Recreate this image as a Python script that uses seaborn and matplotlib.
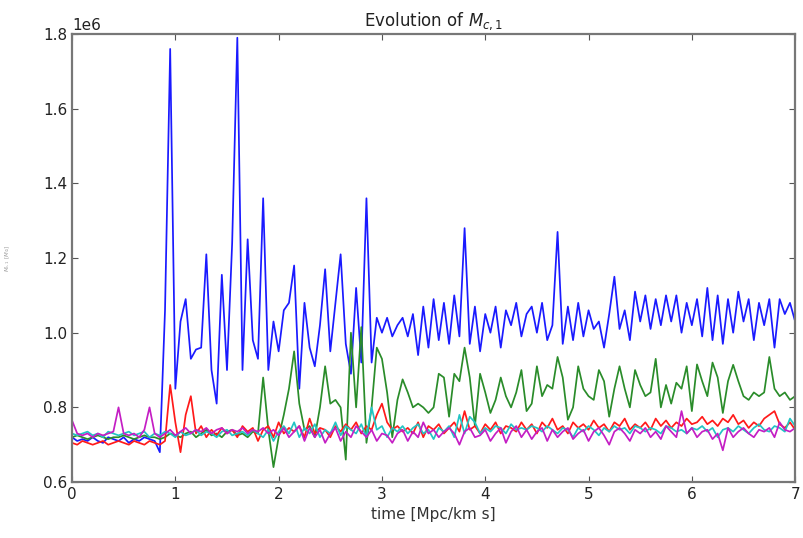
import numpy as np
import pandas as pd
import matplotlib
matplotlib.use("Agg")
import matplotlib.pyplot as plt
import seaborn as sns

# ---------------- data (values in units of 1e6) ----------------
n_steps = 141
dt = 0.05

blue = [0.72, 0.71, 0.715, 0.71, 0.72, 0.71, 0.705, 0.72, 0.715, 0.71, 0.72, 0.705, 0.715, 0.71, 0.72, 0.715, 0.71,
        0.68, 1.06, 1.76, 0.85, 1.03, 1.09, 0.93, 0.955, 0.96, 1.21, 0.90, 0.81, 1.155, 0.90, 1.24, 1.79, 0.90,
        1.25, 0.98, 0.93, 1.36, 0.90, 1.03, 0.95, 1.06, 1.08, 1.18, 0.85, 1.08, 0.96, 0.91, 1.02, 1.17, 0.95,
        1.08, 1.21, 0.97, 0.89, 1.12, 0.92, 1.36, 0.92, 1.04, 1.00, 1.04, 0.99, 1.02, 1.04, 0.99, 1.05, 0.94,
        1.07, 0.96, 1.09, 0.98, 1.08, 0.97, 1.10, 0.99, 1.28, 0.97, 1.07, 0.95, 1.05, 1.00, 1.07, 0.96, 1.06,
        1.02, 1.08, 0.99, 1.05, 1.07, 1.00, 1.08, 0.98, 1.02, 1.27, 0.97, 1.07, 0.98, 1.08, 0.99, 1.06, 1.01,
        1.03, 0.96, 1.05, 1.15, 1.01, 1.06, 0.98, 1.11, 1.03, 1.10, 1.01, 1.09, 1.02, 1.10, 1.03, 1.10, 1.00,
        1.08, 1.02, 1.09, 0.99, 1.12, 0.98, 1.10, 0.97, 1.09, 1.00, 1.11, 1.03, 1.09, 0.98, 1.08, 1.02, 1.09,
        0.96, 1.09, 1.05, 1.08, 1.03]

green = [0.72, 0.725, 0.72, 0.715, 0.72, 0.725, 0.72, 0.715, 0.72, 0.72, 0.725, 0.72, 0.715, 0.72, 0.725, 0.72,
         0.72, 0.715, 0.72, 0.73, 0.725, 0.72, 0.73, 0.735, 0.72, 0.73, 0.74, 0.725, 0.73, 0.72, 0.735, 0.74,
         0.725, 0.73, 0.72, 0.735, 0.73,
         0.88, 0.74, 0.64, 0.72, 0.78, 0.85, 0.95, 0.81, 0.74, 0.75, 0.72, 0.80, 0.91, 0.81, 0.82, 0.80, 0.66,
         1.00, 0.80, 1.015, 0.705, 0.80, 0.96, 0.93, 0.84, 0.72, 0.82, 0.875, 0.84, 0.80, 0.81, 0.80, 0.785,
         0.80, 0.89, 0.88, 0.775, 0.89, 0.87, 0.96, 0.88, 0.75, 0.89, 0.84, 0.785, 0.82, 0.88, 0.83, 0.80,
         0.84, 0.90, 0.79, 0.81, 0.91, 0.83, 0.86, 0.85, 0.935, 0.88, 0.767, 0.80, 0.91, 0.85, 0.83, 0.82,
         0.90, 0.87, 0.775, 0.85, 0.91, 0.85, 0.80, 0.90, 0.86, 0.83, 0.84, 0.93, 0.80, 0.86, 0.81, 0.866,
         0.85, 0.91, 0.79, 0.915, 0.87, 0.83, 0.92, 0.88, 0.785, 0.87, 0.914, 0.87, 0.83, 0.82, 0.84, 0.83,
         0.84, 0.935, 0.85, 0.83, 0.84, 0.82, 0.83]

red = [0.705, 0.70, 0.71, 0.705, 0.70, 0.705, 0.71, 0.70, 0.705, 0.71, 0.705, 0.70, 0.71, 0.705, 0.70, 0.71,
       0.705, 0.70, 0.71, 0.86, 0.76, 0.68, 0.78, 0.83, 0.73, 0.75, 0.72, 0.74, 0.725, 0.745, 0.73, 0.74,
       0.72, 0.75, 0.735, 0.745, 0.71, 0.74, 0.75, 0.72, 0.76, 0.73, 0.745, 0.735, 0.75, 0.72, 0.77, 0.73,
       0.745, 0.74, 0.72, 0.75, 0.735, 0.755, 0.74, 0.76, 0.73, 0.75, 0.74, 0.78, 0.81, 0.76, 0.74, 0.75,
       0.735, 0.745, 0.73, 0.76, 0.72, 0.75, 0.74, 0.755, 0.73, 0.745, 0.76, 0.735, 0.79, 0.74, 0.75, 0.73,
       0.755, 0.74, 0.76, 0.73, 0.75, 0.745, 0.735, 0.76, 0.74, 0.755, 0.73, 0.76, 0.745, 0.77, 0.74, 0.75,
       0.73, 0.76, 0.745, 0.755, 0.74, 0.765, 0.745, 0.755, 0.735, 0.76, 0.75, 0.77, 0.74, 0.755, 0.745,
       0.76, 0.74, 0.77, 0.75, 0.765, 0.745, 0.76, 0.75, 0.77, 0.755, 0.76, 0.775, 0.755, 0.765, 0.75, 0.77,
       0.76, 0.78, 0.755, 0.765, 0.745, 0.76, 0.75, 0.77, 0.78, 0.79, 0.755, 0.745, 0.76, 0.74]

cyan = [0.73, 0.725, 0.73, 0.735, 0.725, 0.73, 0.72, 0.735, 0.73, 0.725, 0.73, 0.735, 0.725, 0.73, 0.735, 0.72,
        0.73, 0.725, 0.735, 0.73, 0.72, 0.735, 0.725, 0.73, 0.74, 0.725, 0.735, 0.73, 0.72, 0.735, 0.74, 0.725,
        0.73, 0.735, 0.725, 0.74, 0.73, 0.72, 0.74, 0.71, 0.735, 0.75, 0.73, 0.76, 0.72, 0.745, 0.73, 0.755,
        0.72, 0.74, 0.73, 0.76, 0.725, 0.75, 0.74, 0.73, 0.755, 0.72, 0.80, 0.74, 0.75, 0.72, 0.745, 0.735,
        0.75, 0.73, 0.745, 0.755, 0.73, 0.74, 0.715, 0.745, 0.735, 0.75, 0.72, 0.78, 0.73, 0.775, 0.76, 0.73,
        0.745, 0.735, 0.75, 0.745, 0.73, 0.755, 0.74, 0.745, 0.74, 0.75, 0.745, 0.735, 0.75, 0.74, 0.73,
        0.745, 0.74, 0.72, 0.745, 0.735, 0.75, 0.74, 0.725, 0.745, 0.735, 0.75, 0.74, 0.745, 0.73, 0.75,
        0.745, 0.735, 0.745, 0.74, 0.73, 0.75, 0.745, 0.735, 0.74, 0.73, 0.745, 0.74, 0.75, 0.735, 0.745,
        0.72, 0.74, 0.745, 0.735, 0.75, 0.74, 0.73, 0.745, 0.755, 0.74, 0.735, 0.75, 0.745, 0.735, 0.77, 0.75]

magenta = [0.765, 0.73, 0.725, 0.73, 0.72, 0.73, 0.725, 0.73, 0.735, 0.80, 0.73, 0.725, 0.73, 0.72, 0.74, 0.80,
           0.73, 0.72, 0.73, 0.74, 0.725, 0.735, 0.745, 0.73, 0.74, 0.735, 0.745, 0.73, 0.74, 0.745, 0.73, 0.74,
           0.735, 0.745, 0.73, 0.74, 0.735, 0.745, 0.73, 0.74, 0.725, 0.745, 0.72, 0.735, 0.75, 0.71, 0.745,
           0.72, 0.74, 0.705, 0.73, 0.745, 0.71, 0.735, 0.72, 0.75, 0.735, 0.72, 0.74, 0.71, 0.73, 0.725, 0.705,
           0.73, 0.74, 0.71, 0.735, 0.72, 0.76, 0.73, 0.74, 0.72, 0.735, 0.745, 0.73, 0.70, 0.735, 0.745, 0.72,
           0.725, 0.74, 0.71, 0.73, 0.745, 0.705, 0.735, 0.75, 0.72, 0.74, 0.715, 0.735, 0.745, 0.71, 0.74,
           0.72, 0.735, 0.745, 0.715, 0.73, 0.74, 0.71, 0.735, 0.745, 0.725, 0.70, 0.735, 0.745, 0.73, 0.71,
           0.74, 0.73, 0.745, 0.72, 0.735, 0.715, 0.75, 0.735, 0.72, 0.79, 0.73, 0.745, 0.72, 0.735, 0.74,
           0.715, 0.73, 0.685, 0.745, 0.72, 0.735, 0.745, 0.73, 0.72, 0.74, 0.735, 0.745, 0.72, 0.76, 0.74,
           0.735, 0.745]

series_names = ["c1", "c2", "c3", "c4", "c5"]
series_values = [blue, green, red, cyan, magenta]
series_colors = ["#1a1aff", "#2a8c2a", "#ff1a1a", "#22c4c4", "#c41ec4"]

time = np.arange(n_steps) * dt

# ---------------- style ----------------
sns.set_style("ticks")
plt.rcParams["font.family"] = ["DejaVu Sans"]
plt.rcParams["xtick.direction"] = "in"
plt.rcParams["ytick.direction"] = "in"
plt.rcParams["xtick.top"] = True
plt.rcParams["ytick.right"] = True

fig = plt.figure(figsize=(8.04, 5.38), dpi=100)
ax = fig.add_axes([0.0896, 0.104, 0.8994, 0.8328])

for name, vals, col in zip(series_names, series_values, series_colors):
    df = pd.DataFrame({"time": time, "M": np.array(vals) * 1e6})
    sns.lineplot(data=df, x="time", y="M", color=col, linewidth=1.25, ax=ax, legend=False)

ax.set_xlim(0, 7)
ax.set_ylim(0.6e6, 1.8e6)
ax.set_xticks(range(0, 8))
ax.set_yticks([0.6e6, 0.8e6, 1.0e6, 1.2e6, 1.4e6, 1.6e6, 1.8e6])
ax.ticklabel_format(axis="y", style="sci", scilimits=(6, 6), useMathText=False)
ax.tick_params(axis="both", labelsize=11, length=4, width=0.8, color="#555555", labelcolor="#222222")
for sp in ax.spines.values():
    sp.set_color("#777777")
    sp.set_linewidth(1.6)

ax.set_title("Evolution of $M_{c,1}$", fontsize=12, color="#222222")
ax.set_xlabel("time [Mpc/km s]", fontsize=11, color="#333333")
ax.set_ylabel("$M_{c,1}$ [$M_{\\odot}$]", fontsize=4, color="#999999", labelpad=22)
ax.yaxis.get_offset_text().set_fontsize(11)

fig.savefig("out.png", dpi=100)
